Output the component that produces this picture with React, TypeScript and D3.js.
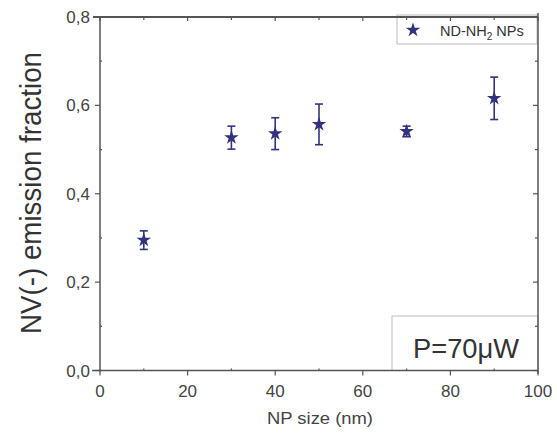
import React from "react";
import * as d3 from "d3";

const sizes = [10, 30, 40, 50, 70, 90];
const fractions = [0.295, 0.527, 0.536, 0.557, 0.541, 0.616];
const errors = [0.021, 0.026, 0.036, 0.046, 0.012, 0.048];
const xTicks = [0, 20, 40, 60, 80, 100];
const yTicks = [0, 0.2, 0.4, 0.6, 0.8];

const W = 557, H = 436;
const left = 100, right = 538, top = 17, bottom = 370.5;
const color = "#32327f";
const axisColor = "#555";
const font = "Liberation Sans, Arial, sans-serif";

export default function App() {
  const x = d3.scaleLinear().domain([0, 100]).range([left, right]);
  const y = d3.scaleLinear().domain([0, 0.8]).range([bottom, top]);
  const star = d3.symbol().type(d3.symbolStar).size(65)() as string;
  const xMinor = d3.range(10, 100, 20);
  const yMinor = d3.range(0.1, 0.8, 0.2);
  const fmt = (v: number) => v.toFixed(1).replace(".", ",");
  const data = sizes.map((s, i) => ({ s, v: fractions[i], e: errors[i] }));

  return (
    <svg width={W} height={H} style={{ position: "absolute", left: 0, top: 0, background: "#fff" }}>
      {/* legend box */}
      <rect x={397} y={15} width={140} height={29} fill="#fff" stroke="#bbb" strokeWidth={1} />
      <path d={star} transform="translate(413,30)" fill={color} />
      <text x={440} y={36} fontFamily={font} fontSize={14.5} fill="#333">
        ND-NH<tspan fontSize={10} dy={4}>2</tspan><tspan dy={-4}> NPs</tspan>
      </text>
      {/* P box */}
      <rect x={392} y={316} width={146} height={54.5} fill="#fff" stroke="#bbb" strokeWidth={1} />
      <text x={413} y={358} fontFamily={font} fontSize={28} fill="#333" textLength={106} lengthAdjust="spacingAndGlyphs">P=70μW</text>

      {/* frame */}
      <line x1={93} x2={right} y1={top} y2={top} stroke={axisColor} strokeWidth={2} />
      <line x1={left} x2={left} y1={top} y2={bottom + 1} stroke={axisColor} strokeWidth={1.5} />
      <line x1={right} x2={right} y1={top - 4} y2={bottom + 3} stroke={axisColor} strokeWidth={1.5} />
      <line x1={left - 8} x2={right} y1={bottom} y2={bottom} stroke={axisColor} strokeWidth={1.5} />

      {/* x ticks */}
      {xTicks.map((t) => (
        <g key={"xt" + t}>
          <line x1={x(t)} x2={x(t)} y1={bottom} y2={bottom + 5} stroke={axisColor} strokeWidth={1.2} />
          <line x1={x(t)} x2={x(t)} y1={top} y2={top + 4} stroke={axisColor} strokeWidth={1.2} />
          <text x={x(t)} y={397} textAnchor="middle" fontFamily={font} fontSize={17} fill="#444">{t}</text>
        </g>
      ))}
      {xMinor.map((t) => (
        <g key={"xm" + t}>
          <line x1={x(t)} x2={x(t)} y1={bottom - 2} y2={bottom} stroke={axisColor} strokeWidth={1.2} />
          <line x1={x(t)} x2={x(t)} y1={top} y2={top + 3} stroke={axisColor} strokeWidth={1.2} />
        </g>
      ))}
      {/* y ticks */}
      {yTicks.map((t) => (
        <g key={"yt" + t}>
          <line x1={left - 5} x2={left} y1={y(t)} y2={y(t)} stroke={axisColor} strokeWidth={1.2} />
          <line x1={right - 5} x2={right} y1={y(t)} y2={y(t)} stroke={axisColor} strokeWidth={1.2} />
          <text x={90} y={y(t) + 6} textAnchor="end" fontFamily={font} fontSize={17} fill="#444">{fmt(t)}</text>
        </g>
      ))}
      {yMinor.map((t) => (
        <g key={"ym" + t}>
          <line x1={left} x2={left + 2} y1={y(t)} y2={y(t)} stroke={axisColor} strokeWidth={1.2} />
          <line x1={right - 3} x2={right} y1={y(t)} y2={y(t)} stroke={axisColor} strokeWidth={1.2} />
        </g>
      ))}

      {/* axis titles */}
      <text x={320} y={424} textAnchor="middle" fontFamily={font} fontSize={16} fill="#444" textLength={106} lengthAdjust="spacingAndGlyphs">NP size (nm)</text>
      <text transform="translate(41,193) rotate(-90)" textAnchor="middle" fontFamily={font} fontSize={29} fill="#333" textLength={282} lengthAdjust="spacingAndGlyphs">
        NV(-) emission fraction
      </text>

      {/* data */}
      {data.map((d) => (
        <g key={"d" + d.s} stroke={color} strokeWidth={1.6}>
          <line x1={x(d.s)} x2={x(d.s)} y1={y(d.v - d.e)} y2={y(d.v + d.e)} />
          <line x1={x(d.s) - 4} x2={x(d.s) + 4} y1={y(d.v - d.e)} y2={y(d.v - d.e)} />
          <line x1={x(d.s) - 4} x2={x(d.s) + 4} y1={y(d.v + d.e)} y2={y(d.v + d.e)} />
          <path d={star} transform={`translate(${x(d.s)},${y(d.v)})`} fill={color} stroke="none" />
        </g>
      ))}
    </svg>
  );
}
